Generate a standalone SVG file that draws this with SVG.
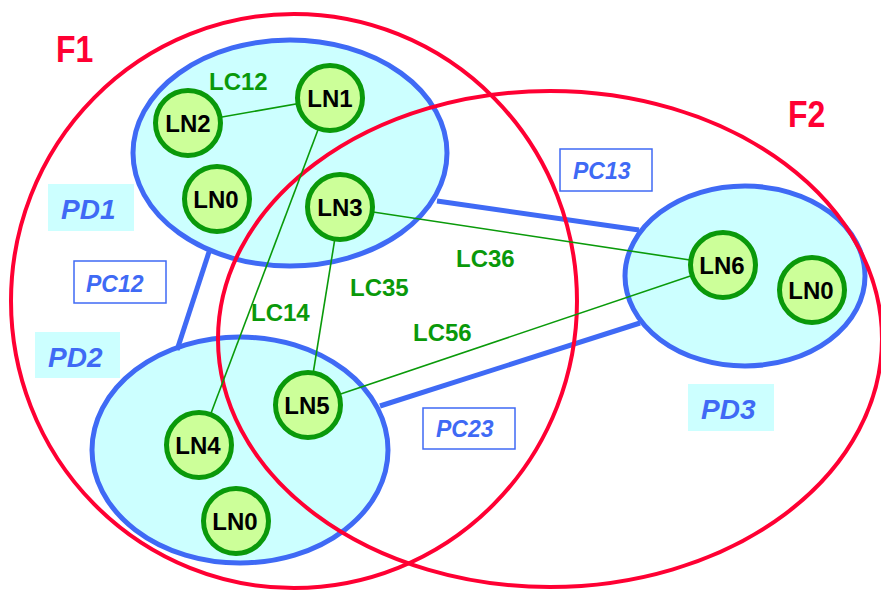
<svg xmlns="http://www.w3.org/2000/svg" width="881" height="593" viewBox="0 0 881 593">
<style>
.pd{fill:#ccffff;stroke:#3f6af5;stroke-width:5}
.f{fill:none;stroke:#ff0033;stroke-width:4}
.pc{stroke:#3f6af5;stroke-width:5;fill:none}
.lc{stroke:#0a9a0a;stroke-width:1.6;fill:none}
.ln{fill:#ccff99;stroke:#0a990a;stroke-width:5}
.lnt{font-family:"Liberation Sans",Arial,sans-serif;font-weight:bold;font-size:24px;fill:#000;text-anchor:middle}
.lct{font-family:"Liberation Sans",Arial,sans-serif;font-weight:bold;font-size:24px;fill:#0a990a}
.ft{font-family:"Liberation Sans",Arial,sans-serif;font-weight:bold;font-size:32px;fill:#ff0033}
.pdt{font-family:"Liberation Sans",Arial,sans-serif;font-weight:bold;font-style:italic;font-size:28px;fill:#3f6af5}
.pdr{fill:#ccffff}
.pcr{fill:#fff;stroke:#3f6af5;stroke-width:1.5}
.pct{font-family:"Liberation Sans",Arial,sans-serif;font-weight:bold;font-style:italic;font-size:23px;fill:#3f6af5}
</style>
<g id="PD1"><ellipse class="pd" cx="290" cy="153" rx="157" ry="113"/></g>
<g id="PD2"><ellipse class="pd" cx="240" cy="450" rx="148" ry="113"/></g>
<g id="PD3"><ellipse class="pd" cx="745" cy="276" rx="120" ry="90"/></g>
<g id="connectors">
<line class="pc" x1="209" y1="252" x2="177" y2="350"/>
<line class="pc" x1="437" y1="201" x2="639" y2="230"/>
<line class="pc" x1="380" y1="406" x2="640" y2="323"/>
</g>
<g id="F1"><ellipse class="f" cx="294" cy="301" rx="283" ry="287"/><text class="ft" transform="translate(56,62) scale(1,1.15)">F1</text></g>
<g id="F2"><ellipse class="f" cx="550" cy="339" rx="332" ry="248"/><text class="ft" transform="translate(788,127) scale(1,1.15)">F2</text></g>
<g id="links">
<line class="lc" x1="188" y1="123" x2="330" y2="98"/>
<line class="lc" x1="330" y1="98" x2="199" y2="445"/>
<line class="lc" x1="340" y1="207" x2="308" y2="405"/>
<line class="lc" x1="340" y1="207" x2="723" y2="265"/>
<line class="lc" x1="308" y1="405" x2="723" y2="265"/>
</g>
<g id="LN2"><circle class="ln" cx="188" cy="123" r="32.5"/><text class="lnt" x="188" y="132">LN2</text></g>
<g id="LN1"><circle class="ln" cx="330" cy="98" r="32.5"/><text class="lnt" x="330" y="107">LN1</text></g>
<g id="LN0a"><circle class="ln" cx="217" cy="199" r="32.5"/><text class="lnt" x="216" y="208">LN0</text></g>
<g id="LN3"><circle class="ln" cx="340" cy="207" r="32.5"/><text class="lnt" x="340" y="216">LN3</text></g>
<g id="LN6"><circle class="ln" cx="723" cy="265" r="32.5"/><text class="lnt" x="722" y="274">LN6</text></g>
<g id="LN0c"><circle class="ln" cx="812" cy="290" r="32.5"/><text class="lnt" x="811" y="299">LN0</text></g>
<g id="LN4"><circle class="ln" cx="199" cy="445" r="32.5"/><text class="lnt" x="198" y="454">LN4</text></g>
<g id="LN5"><circle class="ln" cx="308" cy="405" r="32.5"/><text class="lnt" x="307" y="414">LN5</text></g>
<g id="LN0b"><circle class="ln" cx="236" cy="521" r="32.5"/><text class="lnt" x="235" y="530">LN0</text></g>
<g id="labels">
<text class="lct" x="209" y="90">LC12</text>
<text class="lct" x="251" y="321">LC14</text>
<text class="lct" x="350" y="296">LC35</text>
<text class="lct" x="456" y="267">LC36</text>
<text class="lct" x="413" y="341">LC56</text>
<rect class="pdr" x="48" y="184" width="86" height="47"/><text class="pdt" x="61" y="219">PD1</text>
<rect class="pdr" x="35" y="332" width="85" height="46"/><text class="pdt" x="48" y="367">PD2</text>
<rect class="pdr" x="688" y="384" width="86" height="47"/><text class="pdt" x="701" y="419">PD3</text>
<rect class="pcr" x="74" y="261" width="92" height="42"/><text class="pct" x="86" y="292">PC12</text>
<rect class="pcr" x="560" y="149" width="92" height="42"/><text class="pct" x="573" y="179">PC13</text>
<rect class="pcr" x="423" y="408" width="92" height="41"/><text class="pct" x="436" y="437">PC23</text>
</g>
</svg>
